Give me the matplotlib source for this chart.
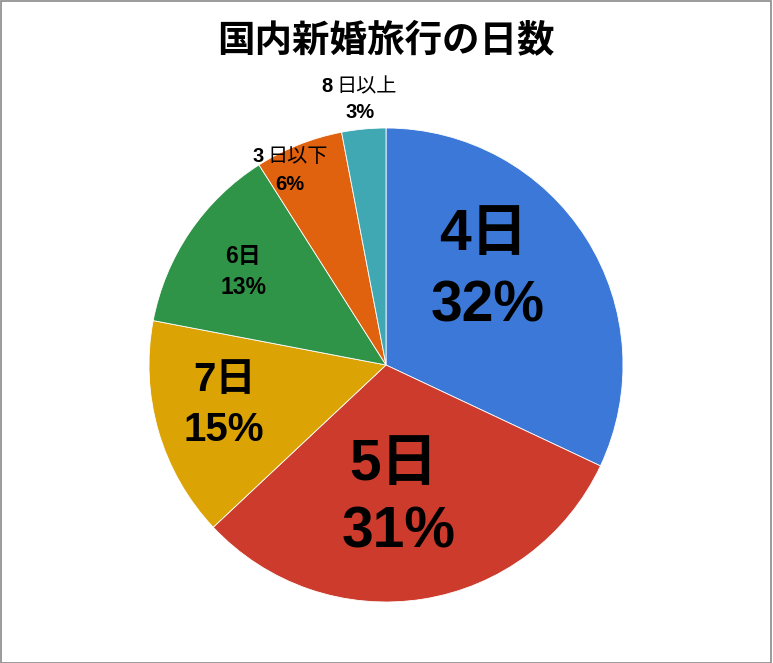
import matplotlib
matplotlib.use("Agg")
import matplotlib.pyplot as plt
from matplotlib.patches import Rectangle

# Data
categories = ["4日", "5日", "7日", "6日", "3日以下", "8日以上"]
values = [32, 31, 15, 13, 6, 3]
colors = ["#3c78d8", "#cc3b2c", "#dca304", "#2f9448", "#e0620e", "#3fa8b3"]
title = "国内新婚旅行の日数"

W, H = 773, 663
fig = plt.figure(figsize=(W / 100, H / 100), dpi=100)

cx, cy, R = 386, 365, 237
ax = fig.add_axes([(cx - R) / W, (H - cy - R) / H, 2 * R / W, 2 * R / H])
wedges, _ = ax.pie(values, colors=colors, startangle=90, counterclock=False,
                   radius=1.0, wedgeprops=dict(edgecolor="white", linewidth=0.6))
ax.set_xlim(-1, 1)
ax.set_ylim(-1, 1)
ax.set_aspect("equal")
ax.axis("off")

fam = ["Liberation Sans", "Noto Sans CJK JP"]

def ftext(x, y, s, size, weight="bold", ha="center"):
    fig.text(x / W, 1 - y / H, s, fontsize=size, fontweight=weight, ha=ha,
             va="center", family=fam, color="black")

# label layout (pixel positions of name line and percent line, font size)
layout = {
    "4日": ((483, 235), (488, 306), 41),
    "5日": ((394, 465), (399, 533), 41),
    "7日": ((225, 380), (224, 430), 29),
    "6日": ((243, 257), (244, 288), 16.5),
}
for cat, val in zip(categories, values):
    if cat in layout:
        (x1, y1), (x2, y2), s = layout[cat]
        ftext(x1, y1, cat, s)
        ftext(x2, y2, f"{val}%", s)

# small labels: numeral bold, CJK part regular
small = {
    "3日以下": (264, 267, 156, (290, 184)),
    "8日以上": (333, 336, 87, (360, 113)),
}
for cat, val in zip(categories, values):
    if cat in small:
        xr, xl, y1, (x2, y2) = small[cat]
        ftext(xr, y1, cat[0], 14.5, "bold", ha="right")
        ftext(xl, y1, cat[1:], 14.5, "normal", ha="left")
        ftext(x2, y2, f"{val}%", 14.5)

fig.text(386 / W, 1 - 40 / H, title, fontsize=27, fontweight="bold",
         ha="center", va="center", family=["Noto Sans CJK JP"])

fig.patches.append(Rectangle((0.5 / W, 0.5 / H), 1 - 2.5 / W, 1 - 1.5 / H,
                             transform=fig.transFigure, fill=False,
                             edgecolor="#8a8a8a", linewidth=1.2))

fig.savefig("out.png", dpi=100, facecolor="white")
